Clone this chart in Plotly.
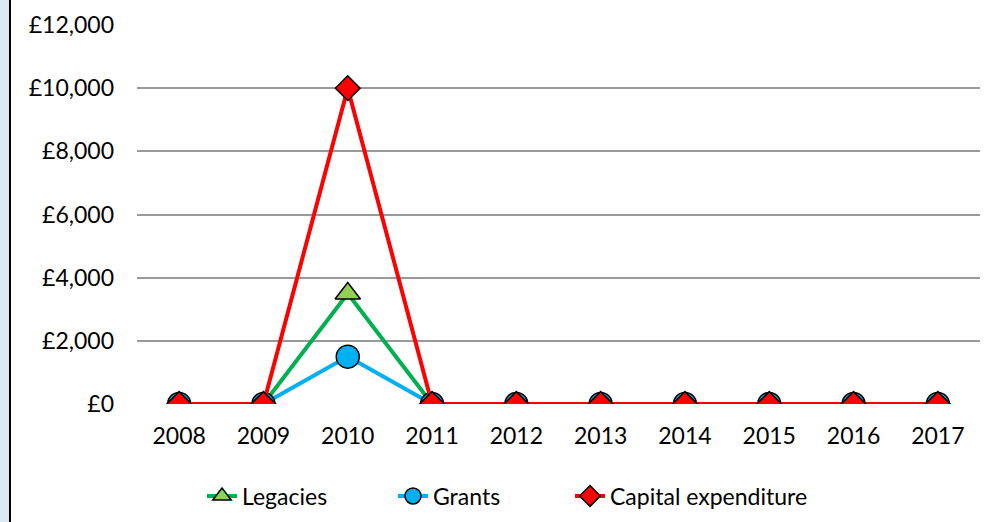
import plotly.graph_objects as go

years = ["2008", "2009", "2010", "2011", "2012", "2013", "2014", "2015", "2016", "2017"]
legacies = [0, 0, 3500, 0, 0, 0, 0, 0, 0, 0]
grants = [0, 0, 1500, 0, 0, 0, 0, 0, 0, 0]
capital = [0, 0, 10000, 0, 0, 0, 0, 0, 0, 0]
y_ticks = [0, 2000, 4000, 6000, 8000, 10000, 12000]
y_labels = ["£0", "£2,000", "£4,000", "£6,000", "£8,000", "£10,000", "£12,000"]

FONT = "Lato, 'Open Sans', sans-serif"

L, R, T, B = 137, 27, 25, 118
W, H = 1007, 522
pw = W - L - R
ph = H - T - B

fig = go.Figure()
fig.add_trace(go.Scatter(
    x=years, y=legacies, name="Legacies", mode="lines+markers", legend="legend",
    line=dict(color="#00B050", width=4),
    marker=dict(symbol="triangle-up", size=22, color="#92D050", line=dict(color="black", width=1.5)),
))
fig.add_trace(go.Scatter(
    x=years, y=grants, name="Grants", mode="lines+markers", legend="legend2",
    line=dict(color="#00B0F0", width=4),
    marker=dict(symbol="circle", size=23, color="#00B0F0", line=dict(color="black", width=1.5)),
))
fig.add_trace(go.Scatter(
    x=years, y=capital, name="Capital expenditure", mode="lines+markers", legend="legend3",
    line=dict(color="#FF0000", width=4),
    marker=dict(symbol="diamond", size=19, color="#FF0000", line=dict(color="black", width=1.5)),
))

leg_y = -(496 - T - ph) / ph


def legend_at(px):
    return dict(orientation="h", x=(px - L) / pw, xanchor="left", y=leg_y, yanchor="middle",
                font=dict(size=23), bgcolor="rgba(0,0,0,0)", borderwidth=0)


fig.update_layout(
    width=W, height=H,
    margin=dict(l=L, r=R, t=T, b=B, autoexpand=False),
    paper_bgcolor="white", plot_bgcolor="white",
    font=dict(family=FONT, size=23, color="black"),
    showlegend=True,
    legend=legend_at(202),
    legend2=legend_at(393),
    legend3=legend_at(570),
    xaxis=dict(type="category", range=[-0.5, 9.5], showgrid=False, zeroline=False, showline=False,
               ticks="", tickfont=dict(size=23), ticklabelstandoff=16, automargin=False),
    yaxis=dict(range=[0, 12000], tickvals=y_ticks, ticktext=y_labels,
               showgrid=True, gridcolor="#999999", gridwidth=2, zeroline=False,
               showline=False, ticks="", tickfont=dict(size=23), ticklabelstandoff=22,
               automargin=False),
    shapes=[
        dict(type="rect", xref="paper", yref="paper",
             x0=-L / pw, x1=(-L + 9) / pw, y0=-B / ph, y1=(H - T) / ph,
             fillcolor="#DAEAF2", line=dict(width=0), layer="below"),
        dict(type="line", xref="paper", yref="paper",
             x0=(-L + 10) / pw, x1=(-L + 10) / pw, y0=-B / ph, y1=(H - T) / ph,
             line=dict(color="black", width=2)),
    ],
)

fig.write_html("out.html", config={"displayModeBar": False},
               post_script="document.body.style.margin='0';document.body.style.padding='0';")
